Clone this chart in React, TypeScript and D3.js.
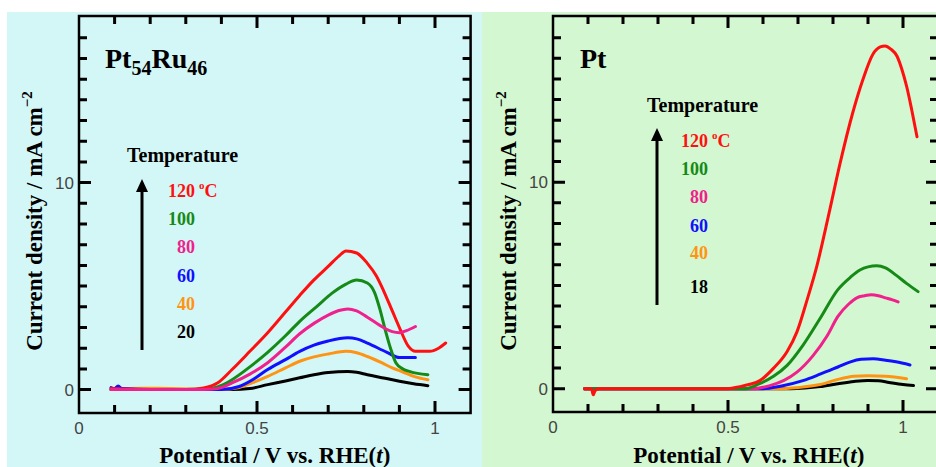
import React from 'react';
import * as d3 from 'd3';

type Pt = [number, number];

// ---------- Data: Pt54Ru46 panel ----------
const ptruTemps = ['120', '100', '80', '60', '40', '20'];
const ptru120: Pt[] = [[0.09,0.05],[0.2,0],[0.3,0],[0.35,0.08],[0.39,0.33],[0.43,0.97],[0.48,1.85],[0.53,2.75],[0.58,3.75],[0.62,4.55],[0.66,5.3],[0.70,5.95],[0.73,6.45],[0.75,6.7],[0.78,6.6],[0.81,6.1],[0.835,5.5],[0.855,4.8],[0.88,3.8],[0.90,3.0],[0.925,2.1],[0.945,1.85],[0.985,1.85],[1.01,2.0],[1.03,2.25]];
const ptru100: Pt[] = [[0.09,0],[0.3,0],[0.37,0.05],[0.40,0.2],[0.43,0.48],[0.48,1.1],[0.53,1.8],[0.58,2.6],[0.62,3.3],[0.67,4.05],[0.71,4.65],[0.75,5.1],[0.78,5.3],[0.81,5.15],[0.83,4.7],[0.845,3.9],[0.86,2.9],[0.875,2.0],[0.89,1.3],[0.91,1.0],[0.93,0.87],[0.98,0.72]];
const ptru80: Pt[] = [[0.09,0],[0.35,0],[0.39,0.05],[0.43,0.32],[0.48,0.75],[0.53,1.3],[0.58,2.05],[0.62,2.7],[0.66,3.2],[0.70,3.6],[0.73,3.82],[0.755,3.9],[0.78,3.8],[0.81,3.5],[0.855,3.0],[0.88,2.8],[0.90,2.75],[0.92,2.85],[0.945,3.05]];
const ptru60: Pt[] = [[0.09,0.1],[0.1,0.05],[0.11,0.18],[0.12,0.05],[0.2,0],[0.4,0],[0.45,0.15],[0.49,0.5],[0.53,0.97],[0.58,1.45],[0.62,1.85],[0.66,2.15],[0.70,2.35],[0.755,2.5],[0.78,2.45],[0.81,2.25],[0.865,1.8],[0.90,1.55],[0.945,1.55]];
const ptru40: Pt[] = [[0.09,0],[0.18,0.06],[0.22,0.06],[0.4,0],[0.45,0.1],[0.49,0.35],[0.53,0.64],[0.58,1.05],[0.62,1.37],[0.66,1.58],[0.70,1.72],[0.75,1.85],[0.78,1.78],[0.81,1.6],[0.85,1.3],[0.88,1.05],[0.91,0.85],[0.94,0.64],[0.98,0.48]];
const ptru20: Pt[] = [[0.09,0],[0.43,0],[0.48,0.05],[0.53,0.24],[0.58,0.42],[0.62,0.57],[0.66,0.72],[0.70,0.83],[0.755,0.88],[0.78,0.84],[0.81,0.72],[0.86,0.55],[0.90,0.4],[0.94,0.28],[0.98,0.19]];

// ---------- Data: Pt panel ----------
const ptTemps = ['120', '100', '80', '60', '40', '18'];
const pt120: Pt[] = [[0.09,0],[0.11,0],[0.115,-0.3],[0.12,-0.1],[0.13,0],[0.5,0],[0.534,0.1],[0.56,0.2],[0.591,0.39],[0.629,0.97],[0.669,1.8],[0.697,2.75],[0.726,4.3],[0.754,5.95],[0.79,8.6],[0.82,10.9],[0.857,13.4],[0.886,15.0],[0.914,16.2],[0.935,16.55],[0.949,16.6],[0.965,16.45],[0.983,16.1],[0.998,15.4],[1.011,14.6],[1.025,13.5],[1.04,12.2]];
const pt100: Pt[] = [[0.09,0],[0.55,0],[0.59,0.24],[0.63,0.6],[0.669,1.13],[0.714,2.1],[0.763,3.4],[0.814,4.8],[0.85,5.4],[0.877,5.75],[0.90,5.9],[0.925,5.95],[0.95,5.85],[0.98,5.5],[1.01,5.1],[1.043,4.7]];
const pt80: Pt[] = [[0.09,0],[0.57,0],[0.62,0.15],[0.66,0.4],[0.697,0.8],[0.743,1.6],[0.783,2.55],[0.814,3.5],[0.845,4.1],[0.868,4.4],[0.89,4.5],[0.91,4.55],[0.93,4.5],[0.95,4.4],[0.97,4.3],[0.986,4.2]];
const pt60: Pt[] = [[0.09,0],[0.6,0],[0.65,0.12],[0.714,0.39],[0.763,0.7],[0.814,1.05],[0.85,1.3],[0.88,1.42],[0.915,1.45],[0.95,1.38],[0.98,1.3],[1.02,1.15]];
const pt40: Pt[] = [[0.09,0],[0.66,0],[0.70,0.05],[0.763,0.2],[0.814,0.45],[0.86,0.6],[0.9,0.63],[0.95,0.6],[1.01,0.48]];
const pt18: Pt[] = [[0.09,0],[0.68,0],[0.72,0.03],[0.763,0.1],[0.814,0.24],[0.86,0.35],[0.9,0.4],[0.93,0.38],[0.96,0.3],[1.0,0.2],[1.03,0.15]];

const seriesColors = ['#ff1010', '#168a16', '#f0208c', '#1010ff', '#ff9414', '#000000'];
const xMinorTicks = [0.1, 0.2, 0.3, 0.4, 0.6, 0.7, 0.8, 0.9];
const xMajorTicks = [0.5, 1.0];
const xTickLabels = [0, 0.5, 1];
const yMinorTicks = [1, 2, 3, 4, 5, 6, 7, 8, 9, 11, 12, 13, 14, 15, 16, 17];
const yMajorTicks = [0, 10];
const yTickLabels = [0, 10];

const SERIF = '"Liberation Serif", "Times New Roman", serif';
const SANS = '"Liberation Sans", Arial, sans-serif';

interface PanelProps {
  bg: [number, number, number, number];
  bgColor: string;
  left: number;
  right: number;
  top: number;
  bottom: number;
  series: Pt[][];
  drawOrder: number[];
  temps: string[];
  legend: { tx: number; ty: number; arrowX: number; arrowTop: number; arrowBottom: number; numRight: number; baselines: number[] };
  title: React.ReactNode;
}

function Panel(p: PanelProps) {
  const x = d3.scaleLinear().domain([0, 1.1]).range([p.left, p.right]);
  const y = d3.scaleLinear().domain([-1.13, 18.05]).range([p.bottom, p.top]);
  const line = d3.line<Pt>().x(d => x(d[0])).y(d => y(d[1])).curve(d3.curveMonotoneX);
  const minorLen = 8, majorLen = 12;
  const { legend: L } = p;
  const titleCenter = (p.left + 470.6 + (p.left - 79)) / 2;

  let tickPath = '';
  const addX = (t: number, len: number) => {
    const xx = x(t);
    tickPath += `M${xx},${p.bottom}V${p.bottom - len}M${xx},${p.top}V${p.top + len}`;
  };
  const addY = (t: number, len: number) => {
    const yy = y(t);
    tickPath += `M${p.left},${yy}H${p.left + len}M${p.right},${yy}H${p.right - len}`;
  };
  xMinorTicks.forEach(t => addX(t, minorLen));
  xMajorTicks.forEach(t => addX(t, majorLen));
  yMinorTicks.forEach(t => addY(t, minorLen));
  yMajorTicks.forEach(t => addY(t, majorLen));

  return (
    <g>
      <rect x={p.bg[0]} y={p.bg[1]} width={p.bg[2]} height={p.bg[3]} fill={p.bgColor} />
      {p.drawOrder.map(i => (
        <path key={'s' + i} d={line(p.series[i]) || ''} fill="none" stroke={seriesColors[i]} strokeWidth={3} strokeLinejoin="round" strokeLinecap="round" />
      ))}
      <rect x={p.left} y={p.top} width={p.right - p.left} height={p.bottom - p.top} fill="none" stroke="#000" strokeWidth={2.5} />
      <path d={tickPath} fill="none" stroke="#000" strokeWidth={3} />
      {xTickLabels.map(t => (
        <text key={'xl' + t} x={x(t)} y={p.bottom + 21} textAnchor="middle" fontFamily={SANS} fontSize={17} fill="#444">{String(t)}</text>
      ))}
      {yTickLabels.map(t => (
        <text key={'yl' + t} x={p.left - 5} y={y(t) + 6} textAnchor="end" fontFamily={SANS} fontSize={17} fill="#444">{String(t)}</text>
      ))}
      <text x={titleCenter} y={463} textAnchor="middle" fontFamily={SERIF} fontWeight="bold" fontSize={23} fill="#000">
        Potential / V vs. RHE(<tspan fontStyle="italic">t</tspan>)
      </text>
      <text transform={`translate(${p.left - 37},221) rotate(-90)`} textAnchor="middle" fontFamily={SERIF} fontWeight="bold" fontSize={23} fill="#000">
        Current density / mA cm<tspan fontSize={15} dy={-10}>−2</tspan>
      </text>
      {p.title}
      <text x={L.tx} y={L.ty} fontFamily={SERIF} fontWeight="bold" fontSize={20} fill="#000">Temperature</text>
      <line x1={L.arrowX} x2={L.arrowX} y1={L.arrowBottom} y2={L.arrowTop + 10} stroke="#000" strokeWidth={3} />
      <polygon points={`${L.arrowX},${L.arrowTop} ${L.arrowX - 6},${L.arrowTop + 13} ${L.arrowX + 6},${L.arrowTop + 13}`} fill="#000" />
      {p.temps.map((t, i) => (
        <text key={'lg' + t} x={L.numRight} y={L.baselines[i]} textAnchor="end" fontFamily={SERIF} fontWeight="bold" fontSize={18} fill={seriesColors[i]}>{t}</text>
      ))}
      <text x={L.numRight + 4} y={L.baselines[0]} fontFamily={SERIF} fontWeight="bold" fontSize={18} fill={seriesColors[0]}>
        <tspan fontSize={11} dy={-8}>o</tspan><tspan dy={8}>C</tspan>
      </text>
    </g>
  );
}

export default function App() {
  return (
    <svg width={936} height={467} style={{ position: 'absolute', left: 0, top: 0, background: '#fff' }}>
      <Panel
        bg={[7, 12, 475, 455]}
        bgColor="#d3f7f7"
        left={79}
        right={470.6}
        top={16}
        bottom={413}
        series={[ptru120, ptru100, ptru80, ptru60, ptru40, ptru20]}
        drawOrder={[5, 4, 3, 1, 0, 2]}
        temps={ptruTemps}
        legend={{ tx: 127, ty: 162, arrowX: 142, arrowTop: 179, arrowBottom: 350, numRight: 195, baselines: [197, 225, 253, 282, 310, 338] }}
        title={
          <text x={105} y={68} fontFamily={SERIF} fontWeight="bold" fontSize={28} fill="#000">
            Pt<tspan fontSize={20} dy={7}>54</tspan><tspan dy={-7}>Ru</tspan><tspan fontSize={20} dy={7}>46</tspan>
          </text>
        }
      />
      <Panel
        bg={[482, 12, 454, 455]}
        bgColor="#d3f7d0"
        left={553}
        right={938}
        top={16}
        bottom={412}
        series={[pt120, pt100, pt80, pt60, pt40, pt18]}
        drawOrder={[5, 4, 3, 2, 1, 0]}
        temps={ptTemps}
        legend={{ tx: 647, ty: 112, arrowX: 657, arrowTop: 128, arrowBottom: 305, numRight: 708, baselines: [147, 175, 203, 232, 259, 293] }}
        title={
          <text x={580} y={68} fontFamily={SERIF} fontWeight="bold" fontSize={28} fill="#000">Pt</text>
        }
      />
    </svg>
  );
}
